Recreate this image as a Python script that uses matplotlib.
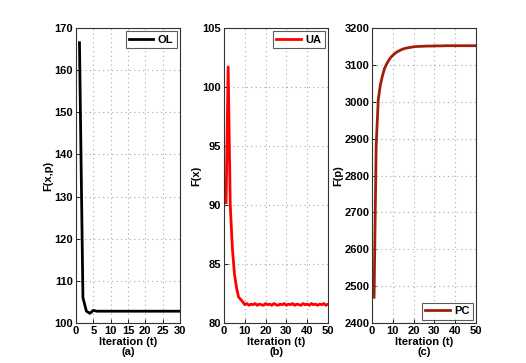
import matplotlib
matplotlib.use("Agg")
import matplotlib.pyplot as plt
import numpy as np

plt.rcParams['font.family'] = ['Liberation Sans', 'DejaVu Sans']
plt.rcParams['font.weight'] = 'bold'

# Panel (a): OL
ol_t = list(range(1, 31))
ol_vals = [166.5, 106.0, 102.8, 102.3, 103.0] + [102.8] * 25

# Panel (b): UA
ua_t = list(range(1, 51))
ua_vals = [90.2, 101.7, 90.0, 86.4, 84.2, 83.0, 82.2, 82.0, 81.8, 81.55,
           81.65, 81.5, 81.6, 81.55, 81.65, 81.5, 81.6, 81.55, 81.5, 81.65,
           81.55, 81.6, 81.5, 81.65, 81.55, 81.5, 81.6, 81.55, 81.65, 81.5,
           81.6, 81.55, 81.65, 81.5, 81.6, 81.55, 81.5, 81.65, 81.55, 81.6,
           81.5, 81.65, 81.55, 81.6, 81.5, 81.6, 81.55, 81.65, 81.5, 81.6]

# Panel (c): PC
pc_t = list(range(1, 51))
pc_vals = [2470, 2880, 3005, 3045, 3070, 3090, 3102, 3112, 3120, 3126,
           3131, 3135, 3138, 3141, 3143, 3145, 3146, 3147, 3148, 3149,
           3149.5, 3150, 3150, 3150.5, 3150.5, 3151, 3151, 3151, 3151, 3151.5,
           3151.5, 3151.5, 3151.5, 3151.5, 3152, 3152, 3152, 3152, 3152, 3152,
           3152, 3152, 3152, 3152, 3152, 3152, 3152, 3152, 3152, 3152]

W, H = 526, 363
fig = plt.figure(figsize=(W / 100, H / 100), dpi=100)

def make_ax(left_px, right_px, top_px=28, bottom_px=323):
    return fig.add_axes([left_px / W, (H - bottom_px) / H,
                         (right_px - left_px) / W, (bottom_px - top_px) / H])

panels = [
    dict(pos=(76, 180), t=ol_t, v=ol_vals, color='black', label='OL',
         ylabel='F(x,p)', sub='(a)', xlim=(0, 30), xticks=range(0, 31, 5),
         ylim=(100, 170), yticks=range(100, 171, 10), loc='upper right'),
    dict(pos=(224, 328), t=ua_t, v=ua_vals, color='#ff0000', label='UA',
         ylabel='F(x)', sub='(b)', xlim=(0, 50), xticks=range(0, 51, 10),
         ylim=(80, 105), yticks=range(80, 106, 5), loc='upper right'),
    dict(pos=(372, 476), t=pc_t, v=pc_vals, color='#a01e0a', label='PC',
         ylabel='F(p)', sub='(c)', xlim=(0, 50), xticks=range(0, 51, 10),
         ylim=(2400, 3200), yticks=range(2400, 3201, 100), loc='lower right'),
]

FS = 8
for p in panels:
    ax = make_ax(*p['pos'])
    ax.plot(p['t'], p['v'], color=p['color'], lw=2.0, label=p['label'])
    ax.set_xlim(*p['xlim'])
    ax.set_ylim(*p['ylim'])
    ax.set_xticks(list(p['xticks']))
    ax.set_yticks(list(p['yticks']))
    ax.grid(True, linestyle=(0, (1, 3)), color='#a8a8a8', lw=0.8)
    ax.tick_params(direction='in', length=3, width=0.6, labelsize=FS, pad=2)
    for lab in ax.get_xticklabels() + ax.get_yticklabels():
        lab.set_fontweight('bold')
    for s in ax.spines.values():
        s.set_linewidth(0.8)
        s.set_color('#333333')
    ax.set_xlabel('Iteration (t)\n' + p['sub'], fontsize=FS,
                  fontweight='bold', labelpad=1, linespacing=0.95)
    ax.set_ylabel(p['ylabel'], fontsize=FS, fontweight='bold', labelpad=1)
    leg = ax.legend(loc=p['loc'], fontsize=FS, frameon=True, fancybox=False,
                    handlelength=2.2, borderpad=0.3, handletextpad=0.4,
                    borderaxespad=0.3)
    leg.get_frame().set_edgecolor('#333333')
    leg.get_frame().set_linewidth(0.8)
    for txt in leg.get_texts():
        txt.set_fontweight('bold')

fig.savefig('out.png', dpi=100)
